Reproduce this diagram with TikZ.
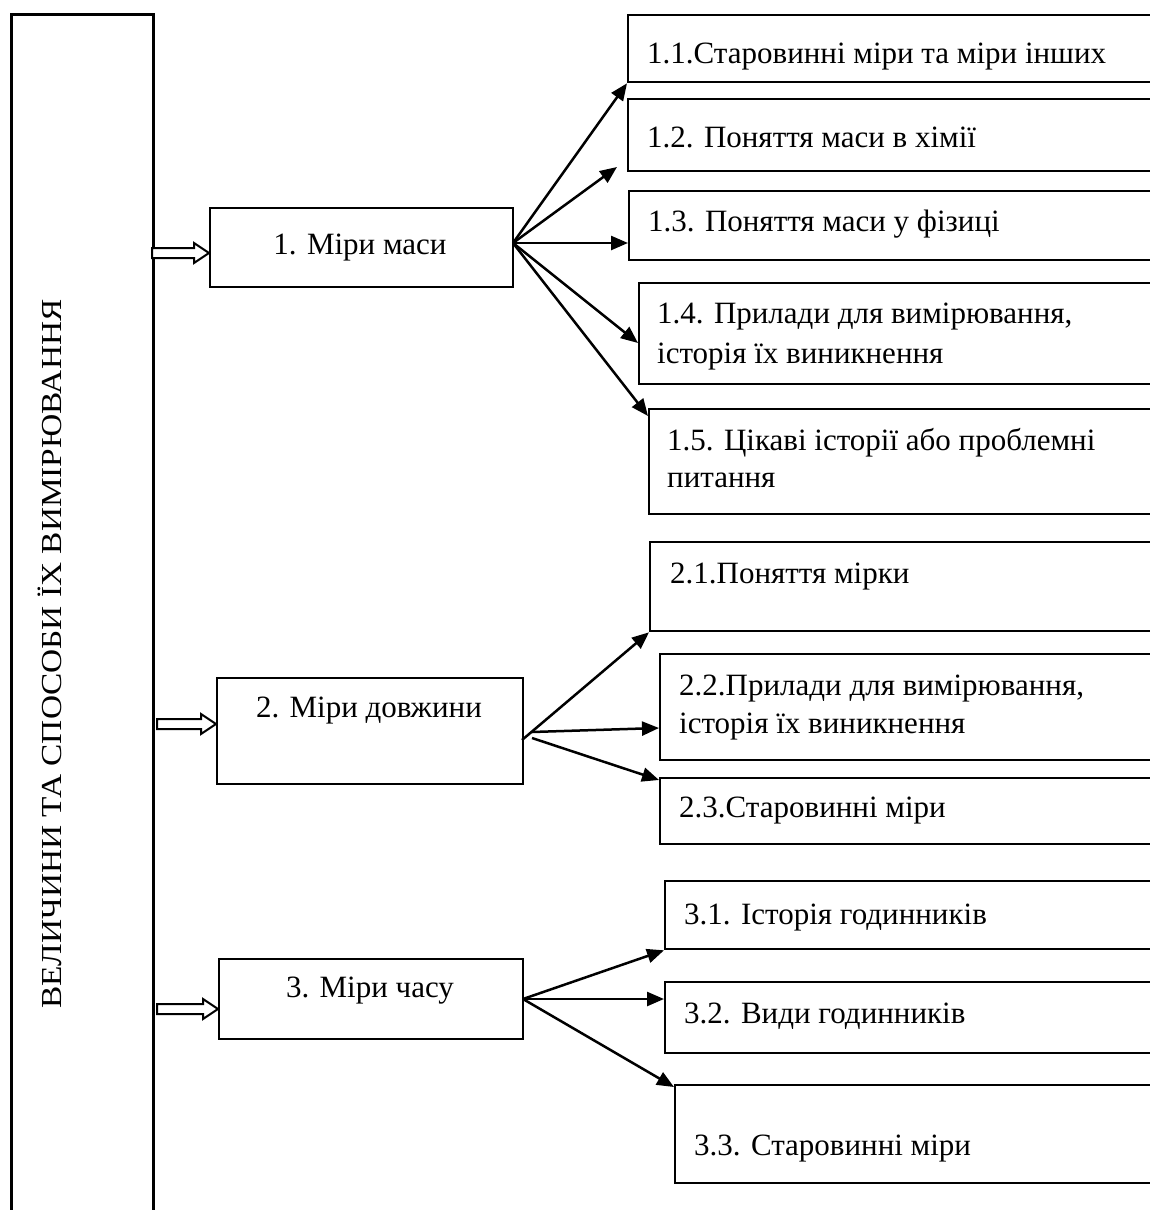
\documentclass[tikz,border=0pt]{standalone}
\usepackage{fontspec}
\setmainfont{Liberation Serif}
\usetikzlibrary{arrows.meta,calc}
\begin{document}
\begin{tikzpicture}[x=1pt,y=-1pt,
  bx/.style={draw, line width=2.3pt, rectangle, inner sep=0pt, anchor=north west},
  txt/.style={inner sep=0pt, font=\fontsize{31}{38}\selectfont},
  arr/.style={line width=2.5pt, -{Triangle[length=17pt,width=14pt]}},
  hollow/.style={draw, line width=2pt, fill=white}]
\useasboundingbox (0,0) rectangle (1150,1210);
\clip (0,0) rectangle (1150,1210);
\fill[white] (0,0) rectangle (1150,1210);
% left column
\node[bx, line width=2.6pt, minimum width=142pt, minimum height=1220pt] (main) at (10,13) {};
\node[txt, font=\fontsize{29}{30}\selectfont, rotate=90, anchor=base] (title) at (61,654) {\scalebox{1.15}[1]{ВЕЛИЧИНИ ТА СПОСОБИ ЇХ ВИМІРЮВАННЯ}};
% middle boxes
\node[bx, minimum width=303pt, minimum height=79pt] (b1) at (209,207) {};
\node[bx, minimum width=306pt, minimum height=106pt] (b2) at (216,677) {};
\node[bx, minimum width=304pt, minimum height=80pt] (b3) at (218,958) {};
\node[txt, anchor=base] (t1) at (360,254) {1. Міри маси};
\node[txt, anchor=base] (t2) at (369,717) {2. Міри довжини};
\node[txt, anchor=base] (t3) at (370,997) {3. Міри часу};
% right boxes
\node[bx, minimum width=533pt, minimum height=67pt] (b11) at (627,14) {};
\node[bx, minimum width=533pt, minimum height=72pt] (b12) at (627,98) {};
\node[bx, minimum width=532pt, minimum height=69pt] (b13) at (628,190) {};
\node[bx, minimum width=522pt, minimum height=101pt] (b14) at (638,282) {};
\node[bx, minimum width=512pt, minimum height=105pt] (b15) at (648,408) {};
\node[bx, minimum width=511pt, minimum height=89pt] (b21) at (649,541) {};
\node[bx, minimum width=501pt, minimum height=106pt] (b22) at (659,653) {};
\node[bx, minimum width=501pt, minimum height=66pt] (b23) at (659,777) {};
\node[bx, minimum width=496pt, minimum height=68pt] (b31) at (664,880) {};
\node[bx, minimum width=496pt, minimum height=71pt] (b32) at (664,981) {};
\node[bx, minimum width=486pt, minimum height=98pt] (b33) at (674,1084) {};
% right texts
\node[txt, anchor=base west] (t11) at (647,63) {1.1.Старовинні міри та міри інших};
\node[txt, anchor=base west] (t12) at (647,147) {1.2. Поняття маси в хімії};
\node[txt, anchor=base west] (t13) at (648,231) {1.3. Поняття маси у фізиці};
\node[txt, anchor=base west] (t14a) at (657,323) {1.4. Прилади для вимірювання,};
\node[txt, anchor=base west] (t14b) at (657,363) {історія їх виникнення};
\node[txt, anchor=base west] (t15a) at (667,450) {1.5. Цікаві історії або проблемні};
\node[txt, anchor=base west] (t15b) at (667,487) {питання};
\node[txt, anchor=base west] (t21) at (670,583) {2.1.Поняття мірки};
\node[txt, anchor=base west] (t22a) at (679,695) {2.2.Прилади для вимірювання,};
\node[txt, anchor=base west] (t22b) at (679,733) {історія їх виникнення};
\node[txt, anchor=base west] (t23) at (679,817) {2.3.Старовинні міри};
\node[txt, anchor=base west] (t31) at (684,924) {3.1. Історія годинників};
\node[txt, anchor=base west] (t32) at (684,1023) {3.2. Види годинників};
\node[txt, anchor=base west] (t33) at (694,1155) {3.3. Старовинні міри};
% hollow arrows
\coordinate (h1) at (152,253);
\coordinate (h2) at (157,724);
\coordinate (h3) at (157,1009);
\foreach \s/\b in {h1/b1,h2/b2,h3/b3}{
  \draw[hollow] let \p1=(\s), \p2=(\b.west |- \s) in
    (\x1,\y2+5pt) -- (\x2-15pt,\y2+5pt) -- (\x2-15pt,\y2+10pt) -- (\x2,\y2)
    -- (\x2-15pt,\y2-10pt) -- (\x2-15pt,\y2-5pt) -- (\x1,\y2-5pt) -- cycle;
}
% arrows from box 1
\coordinate (o1) at (513,243);
\coordinate (e12) at (617,167);
\draw[arr] (o1) -- (b11.south west);
\draw[arr] (o1) -- (e12);
\draw[arr] (o1) -- (b13.west |- o1);
\draw[arr] (o1) -- ($(b14.north west)+(0,61)$);
\draw[arr] (o1) -- ($(b15.north west)+(0,8)$);
% arrows from box 2
\coordinate (o2a) at (522,740);
\coordinate (o2b) at (532,732);
\coordinate (o2c) at (532,738);
\draw[arr] (o2a) -- (b21.south west);
\draw[arr] (o2b) -- ($(b22.north west)+(0,75)$);
\draw[arr] (o2c) -- ($(b23.north west)+(0,3)$);
% arrows from box 3
\coordinate (o3) at (523,999);
\draw[arr] (o3) -- (b31.south west);
\draw[arr] (o3) -- ($(b32.north west)+(0,18)$);
\draw[arr] (o3) -- ($(b33.north west)+(0,3)$);
\end{tikzpicture}
\end{document}
